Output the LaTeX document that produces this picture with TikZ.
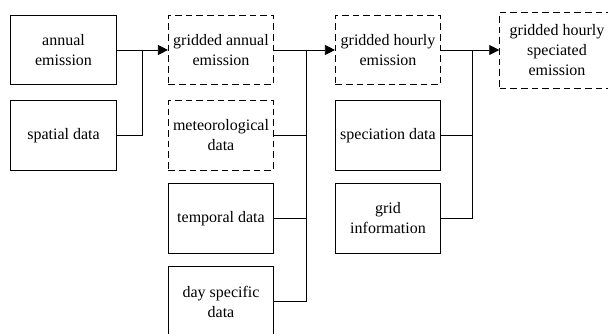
\documentclass[tikz,border=0pt]{standalone}
\usepackage{fontspec}
\setmainfont{Liberation Serif}
\usetikzlibrary{arrows.meta}
\begin{document}
\begin{tikzpicture}[x=0.75pt, y=-0.75pt, line width=0.6pt, >={Triangle[length=7.5pt,width=7.5pt]},
	box/.style={draw, minimum width=79pt, minimum height=52pt, align=center, inner sep=2pt, font=\rmfamily\fontsize{12}{15}\selectfont},
	dbox/.style={box, dash pattern=on 5pt off 3pt}]
	\useasboundingbox (0,0) rectangle (608,334);
	
	% first column: inputs
	\node[box] (annual) at (63.5,50) {annual\\emission};
	\node[box] (spatial) at (63.5,135.5) {spatial data};
	
	% second column
	\node[dbox] (gannual) at (221,50) {gridded annual\\emission};
	\node[dbox] (meteo) at (221,135.5) {meteorological\\data};
	\node[box] (temporal) at (221,218.5) {temporal data};
	\node[box, minimum height=54pt] (dayspec) at (221,302) {day specific\\data};
	
	% third column
	\node[dbox] (ghourly) at (388,50) {gridded hourly\\emission};
	\node[box] (speciation) at (388,135.5) {speciation data};
	\node[box] (gridinfo) at (388,218.5) {grid\\information};
	
	% output (cut at the right edge)
	\node[dbox, minimum width=86pt, minimum height=57pt] (gspec) at (557,50) {gridded hourly\\speciated\\emission};
	
	% joining points
	\coordinate (busA) at (142,50);
	\coordinate (busB) at (306,50);
	\coordinate (busC) at (472,50);
	
	% connectors
	\draw[->] (annual) -- (gannual);
	\draw (spatial.east) -| (busA);
	
	\draw[->] (gannual) -- (ghourly);
	\draw (meteo.east) -| (busB);
	\draw (temporal.east) -| (busB);
	\draw (dayspec.east |- 0,301) -| (busB);
	
	\draw[->] (ghourly) -- (gspec);
	\draw (speciation.east) -| (busC);
	\draw (gridinfo.east) -| (busC);
\end{tikzpicture}
\end{document}
